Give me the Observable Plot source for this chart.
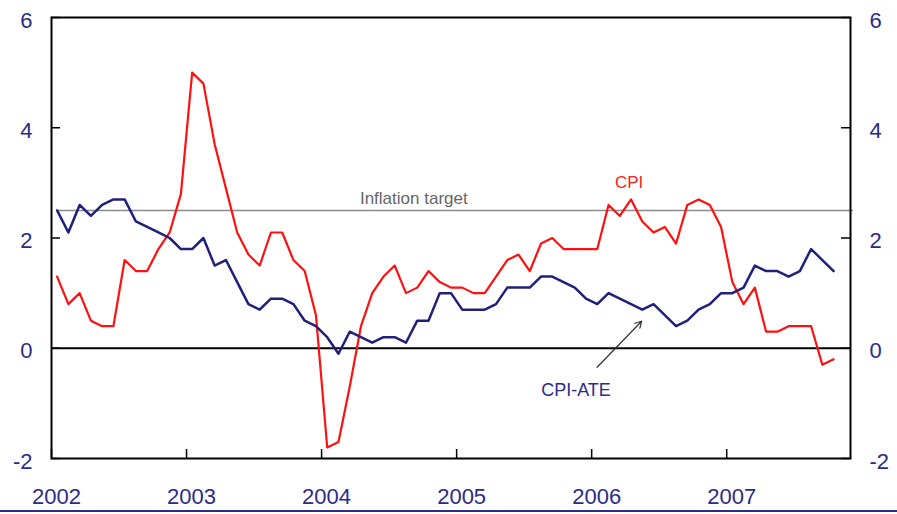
<!DOCTYPE html>
<html>
<head>
<meta charset="utf-8">
<script src="https://cdn.jsdelivr.net/npm/d3@7"></script>
<script src="https://cdn.jsdelivr.net/npm/@observablehq/plot@0.6"></script>
<style>
  html, body { margin: 0; padding: 0; background: #fff; }
  #chart svg { display: block; }
  #bottomline { width: 897px; height: 0; border-top: 2px solid #2b2b8a; }
</style>
</head>
<body>
<div id="chart"></div>
<div id="bottomline"></div>
<script>
// Monthly data, January 2002 – October 2007 (12-month change, %)
const startYear = 2002;
const cpi = [
  1.3, 0.8, 1.0, 0.5, 0.4, 0.4, 1.6, 1.4, 1.4, 1.8, 2.1, 2.8,
  5.0, 4.8, 3.7, 2.9, 2.1, 1.7, 1.5, 2.1, 2.1, 1.6, 1.4, 0.6,
  -1.8, -1.7, -0.7, 0.4, 1.0, 1.3, 1.5, 1.0, 1.1, 1.4, 1.2, 1.1,
  1.1, 1.0, 1.0, 1.3, 1.6, 1.7, 1.4, 1.9, 2.0, 1.8, 1.8, 1.8,
  1.8, 2.6, 2.4, 2.7, 2.3, 2.1, 2.2, 1.9, 2.6, 2.7, 2.6, 2.2,
  1.2, 0.8, 1.1, 0.3, 0.3, 0.4, 0.4, 0.4, -0.3, -0.2
];
const cpiAte = [
  2.5, 2.1, 2.6, 2.4, 2.6, 2.7, 2.7, 2.3, 2.2, 2.1, 2.0, 1.8,
  1.8, 2.0, 1.5, 1.6, 1.2, 0.8, 0.7, 0.9, 0.9, 0.8, 0.5, 0.4,
  0.2, -0.1, 0.3, 0.2, 0.1, 0.2, 0.2, 0.1, 0.5, 0.5, 1.0, 1.0,
  0.7, 0.7, 0.7, 0.8, 1.1, 1.1, 1.1, 1.3, 1.3, 1.2, 1.1, 0.9,
  0.8, 1.0, 0.9, 0.8, 0.7, 0.8, 0.6, 0.4, 0.5, 0.7, 0.8, 1.0,
  1.0, 1.1, 1.5, 1.4, 1.4, 1.3, 1.4, 1.8, 1.6, 1.4
];
const inflationTarget = 2.5;
const yearTicks = [2002, 2003, 2004, 2005, 2006, 2007];
const yTicks = [-2, 0, 2, 4, 6];

const monthX = i => startYear + (i + 0.5) / 12;
const cpiData = cpi.map((v, i) => ({x: monthX(i), v}));
const ateData = cpiAte.map((v, i) => ({x: monthX(i), v}));

const W = 897, H = 510;
const mL = 51, mR = 47, mT = 17, mB = 52;
const xDomain = [2002, 2007 + 11 / 12];
const yDomain = [-2, 6];
const pxPerX = (W - mL - mR) / (xDomain[1] - xDomain[0]);
const pxPerY = (H - mT - mB) / (yDomain[1] - yDomain[0]);
const tickLen = 9;

const navy = "#1f1f7c";
const textNavy = "#2b2b8a";

const chart = Plot.plot({
  width: W,
  height: H,
  marginLeft: mL,
  marginRight: mR,
  marginTop: mT,
  marginBottom: mB,
  style: {fontFamily: "'Liberation Sans', Arial, sans-serif", color: textNavy, background: "#fff"},
  x: {domain: xDomain, axis: null},
  y: {domain: yDomain, axis: null},
  marks: [
    // axes labels
    Plot.axisY({anchor: "left", ticks: yTicks, tickSize: 0, tickPadding: 19, fontSize: 22, dy: 3,
      tickFormat: d => String(d), fill: textNavy}),
    Plot.axisY({anchor: "right", ticks: yTicks, tickSize: 0, tickPadding: 19, fontSize: 22, dy: 3,
      tickFormat: d => String(d), fill: textNavy}),
    Plot.axisX({ticks: yearTicks, tickSize: 0, tickPadding: 30, fontSize: 22, dx: 5,
      tickFormat: d => String(d), fill: textNavy}),
    // inward tick marks
    Plot.ruleY(yTicks, {x1: xDomain[0], x2: xDomain[0] + tickLen / pxPerX, stroke: "#000", strokeWidth: 1.5}),
    Plot.ruleY(yTicks, {x1: xDomain[1] - tickLen / pxPerX, x2: xDomain[1], stroke: "#000", strokeWidth: 1.5}),
    Plot.ruleX(yearTicks, {y1: yDomain[0], y2: yDomain[0] + tickLen / pxPerY, stroke: "#000", strokeWidth: 1.5}),
    // zero line
    Plot.ruleY([0], {stroke: "#000", strokeWidth: 1.8}),
    // inflation target
    Plot.ruleY([inflationTarget], {x1: monthX(0), x2: xDomain[1] + 3 / pxPerX, stroke: "#8a8a8a", strokeWidth: 1.5}),
    Plot.text(["Inflation target"], {x: 2004.683, y: inflationTarget, dy: -12, text: d => d,
      fill: "#666", fontSize: 17, textAnchor: "middle"}),
    // series
    Plot.line(cpiData, {x: "x", y: "v", stroke: "#ff1010", strokeWidth: 2.2}),
    Plot.line(ateData, {x: "x", y: "v", stroke: navy, strokeWidth: 2.5}),
    // labels
    Plot.text(["CPI"], {x: 2006.277, y: 3.01, text: d => d, fill: "#ff2020", fontSize: 17}),
    Plot.text(["CPI-ATE"], {x: 2005.884, y: -0.77, text: d => d, fill: textNavy, fontSize: 18}),
    Plot.arrow([{x1: 2006.04, y1: -0.345, x2: 2006.37, y2: 0.49}],
      {x1: "x1", y1: "y1", x2: "x2", y2: "y2", stroke: "#333", strokeWidth: 1.2, headLength: 9}),
    // frame
    Plot.frame({stroke: "#000", strokeWidth: 2})
  ]
});
document.getElementById("chart").appendChild(chart);
</script>
</body>
</html>
